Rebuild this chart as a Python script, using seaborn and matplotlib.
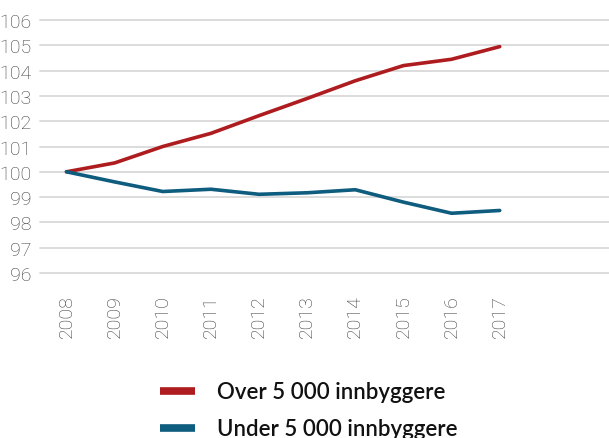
import matplotlib
matplotlib.use("Agg")
import matplotlib.pyplot as plt
import seaborn as sns
import pandas as pd

years = ["2008", "2009", "2010", "2011", "2012", "2013", "2014", "2015", "2016", "2017"]
over_5000 = [100.0, 100.35, 101.0, 101.52, 102.22, 102.9, 103.6, 104.2, 104.45, 104.95]
under_5000 = [100.0, 99.6, 99.22, 99.31, 99.11, 99.17, 99.29, 98.8, 98.36, 98.47]
series_names = ["Over 5 000 innbyggere", "Under 5 000 innbyggere"]
colors = ["#AE1C1F", "#0E5C7E"]
y_ticks = [96, 97, 98, 99, 100, 101, 102, 103, 104, 105, 106]

df = pd.DataFrame({
    "year": years * 2,
    "x": list(range(len(years))) * 2,
    "value": over_5000 + under_5000,
    "series": [series_names[0]] * len(years) + [series_names[1]] * len(years),
})

sns.set_style("white")
plt.rcParams["font.family"] = ["Roboto", "DejaVu Sans"]

fig = plt.figure(figsize=(6.09, 4.39), dpi=100)
ax = fig.add_axes([0.0657, 0.376, 0.9343, 0.576])

sns.lineplot(data=df, x="x", y="value", hue="series", palette=colors,
             linewidth=2.6, ax=ax, legend=False)

ax.set_ylim(96, 106)
ax.set_xlim(-0.55, 11.27)
ax.set_yticks(y_ticks)
ax.set_yticklabels([str(t) for t in y_ticks], fontsize=14, color="#3c3c3c",
                   fontweight="light")
ax.set_xticks(range(len(years)))
ax.set_xticklabels(years, rotation=90, fontsize=14, color="#3c3c3c",
                   fontweight="light")
ax.tick_params(axis="y", length=0, pad=6)
ax.tick_params(axis="x", length=0, pad=15)
ax.yaxis.grid(True, color="#d9d9d9", linewidth=1.3)
ax.xaxis.grid(False)
ax.set_axisbelow(True)
for gl in ax.get_ygridlines():
    gl.set_clip_on(False)
for s in ax.spines.values():
    s.set_visible(False)
ax.set_xlabel("")
ax.set_ylabel("")

handles = [plt.Line2D([], [], color=c, linewidth=5.5, solid_capstyle="butt") for c in colors]
fig.legend(handles, series_names, loc="center", bbox_to_anchor=(0.507, 1 - 411.5 / 439),
           frameon=False, handlelength=1.6, handletextpad=1.0,
           labelspacing=0.72, labelcolor="#111111",
           prop={"family": ["Lato", "DejaVu Sans"], "size": 16, "weight": "semibold"})

fig.savefig("out.png", dpi=100)
